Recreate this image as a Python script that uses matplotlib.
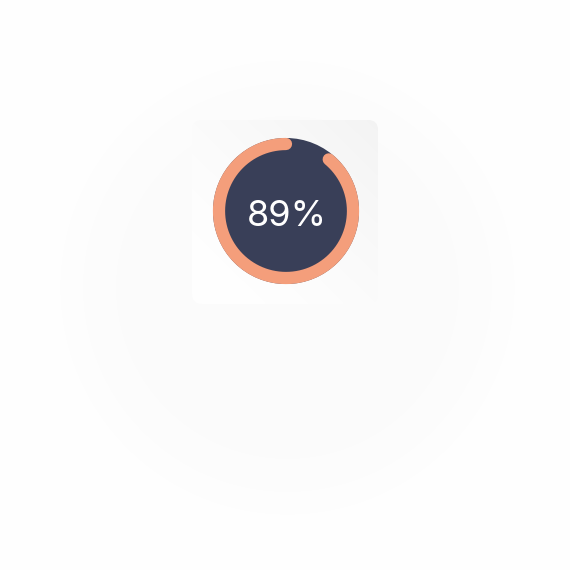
import numpy as np
import matplotlib
matplotlib.use("Agg")
import matplotlib.pyplot as plt
from matplotlib.patches import Circle, FancyBboxPatch

# data
value = 89
label = f"{value}%"

W = H = 570
fig = plt.figure(figsize=(5.7, 5.7), dpi=100)
ax = fig.add_axes([0, 0, 1, 1])
ax.set_xlim(0, W)
ax.set_ylim(H, 0)
ax.axis("off")
fig.patch.set_facecolor("white")

# faint blurred background disk
yy, xx = np.mgrid[0:H, 0:W]
d = np.hypot(xx - 287, yy - 287)
a = 1.0 / (1.0 + np.exp((d - 212) / 18.0))
bg = 1.0 - 0.013 * a
ax.imshow(np.dstack([bg, bg, bg]), extent=(0, W, H, 0), zorder=0, interpolation="bilinear")

# card with diagonal gradient
cx0, cy0, cw, ch = 192, 120, 186, 184
card = FancyBboxPatch((cx0, cy0), cw, ch, boxstyle="round,pad=0,rounding_size=10",
                      facecolor="none", edgecolor="none", zorder=1)
ax.add_patch(card)
gy, gx = np.mgrid[0:100, 0:100] / 99.0
t = np.clip((gx + (1 - gy)) / 2.0, 0, 1)
g = 1.0 - 0.045 * t ** 1.5
im = ax.imshow(np.dstack([g, g, g]), extent=(cx0, cx0 + cw, cy0 + ch, cy0), zorder=1,
               interpolation="bilinear")
im.set_clip_path(card)

# donut
cx, cy = 286, 211
R_outer = 73
ax.add_patch(Circle((cx, cy), R_outer, facecolor="#393f58", edgecolor="none", zorder=2))

r = 67
phi = np.radians(np.linspace(0, -value * 3.6, 400))
ax.plot(cx + r * np.sin(phi), cy - r * np.cos(phi), color="#f49e7b", lw=8.8,
        solid_capstyle="round", zorder=3)

ax.text(cx + 0.5, cy + 5, label, color="white", fontsize=26, family=["Inter", "DejaVu Sans"],
        ha="center", va="center", zorder=4)

fig.savefig("out.png", dpi=100, facecolor="white")
